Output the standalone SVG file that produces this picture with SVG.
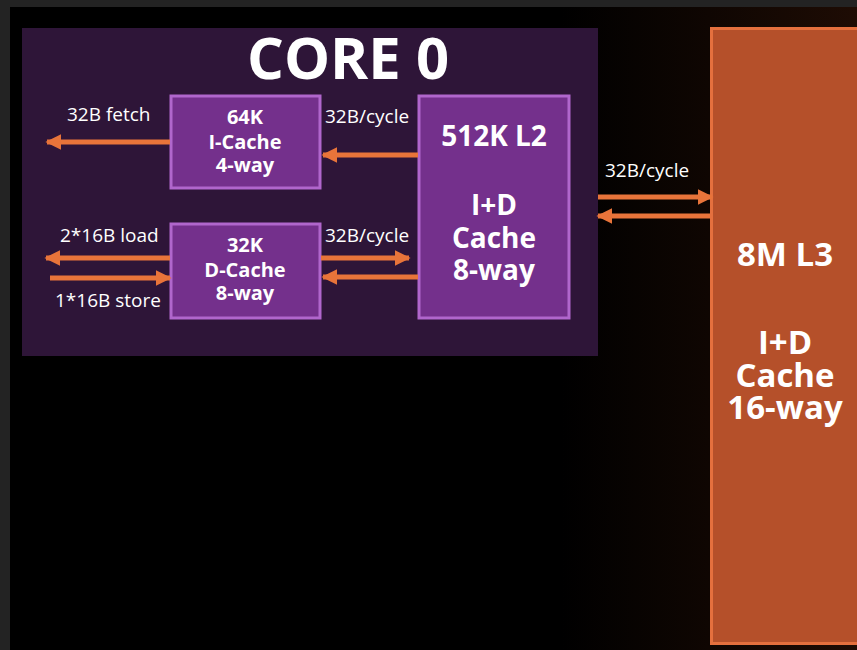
<svg xmlns="http://www.w3.org/2000/svg" width="857" height="650" viewBox="0 0 857 650">
<defs>
<style>
.box{fill:#74308c;stroke:#b066cc;stroke-width:3}
.lbl{font-family:"Open Sans","Liberation Sans",sans-serif;font-size:19px;fill:#ffffff}
.bt{font-family:"Open Sans","Liberation Sans",sans-serif;font-weight:bold;fill:#ffffff;text-anchor:middle}
.ar{stroke:#e8743a;stroke-width:5;fill:none}
</style>
<marker id="ah" viewBox="0 0 10 10" refX="9" refY="5" markerWidth="3.2" markerHeight="3.6" orient="auto" markerUnits="strokeWidth">
<path d="M0,0 L10,5 L0,10 Z" fill="#e8743a"/>
</marker>
<linearGradient id="bg" x1="0" y1="0" x2="1" y2="0">
<stop offset="0.65" stop-color="#000000"/>
<stop offset="1" stop-color="#1e0c04"/>
</linearGradient>
</defs>
<rect x="0" y="0" width="857" height="650" fill="#232323"/>
<rect x="10" y="7" width="847" height="643" fill="url(#bg)"/>
<g id="core0">
<rect x="22" y="28" width="576" height="328" fill="#2e1538"/>
<text class="bt" x="348" y="79" font-size="58">CORE 0</text>
</g>
<g id="icache">
<rect class="box" x="171" y="96" width="149" height="92"/>
<text class="bt" x="245" y="124" font-size="20">64K</text>
<text class="bt" x="245" y="149" font-size="20">I-Cache</text>
<text class="bt" x="245" y="172" font-size="20">4-way</text>
</g>
<g id="dcache">
<rect class="box" x="171" y="224" width="149" height="94"/>
<text class="bt" x="245" y="252" font-size="20">32K</text>
<text class="bt" x="245" y="277" font-size="20">D-Cache</text>
<text class="bt" x="245" y="300" font-size="20">8-way</text>
</g>
<g id="l2">
<rect class="box" x="419" y="96" width="150" height="222"/>
<text class="bt" x="494" y="146" font-size="28">512K L2</text>
<text class="bt" x="494" y="215" font-size="28">I+D</text>
<text class="bt" x="494" y="248" font-size="28">Cache</text>
<text class="bt" x="494" y="280" font-size="28">8-way</text>
</g>
<g id="l3">
<rect x="711.5" y="28.5" width="150" height="615" fill="#b5502a" stroke="#e4703e" stroke-width="3"/>
<text class="bt" x="785" y="266" font-size="33">8M L3</text>
<text class="bt" x="785" y="354" font-size="33">I+D</text>
<text class="bt" x="785" y="387" font-size="33">Cache</text>
<text class="bt" x="785" y="419" font-size="33">16-way</text>
</g>
<g id="connectors">
<line class="ar" x1="170" y1="142" x2="47" y2="142" marker-end="url(#ah)"/>
<line class="ar" x1="418" y1="155" x2="323" y2="155" marker-end="url(#ah)"/>
<line class="ar" x1="170" y1="258" x2="46" y2="258" marker-end="url(#ah)"/>
<line class="ar" x1="50" y1="278" x2="170" y2="278" marker-end="url(#ah)"/>
<line class="ar" x1="321" y1="258" x2="409" y2="258" marker-end="url(#ah)"/>
<line class="ar" x1="418" y1="277" x2="323" y2="277" marker-end="url(#ah)"/>
<line class="ar" x1="598" y1="197" x2="712" y2="197" marker-end="url(#ah)"/>
<line class="ar" x1="710" y1="216" x2="598" y2="216" marker-end="url(#ah)"/>
</g>
<g id="labels">
<text class="lbl" x="67" y="121">32B fetch</text>
<text class="lbl" x="325" y="123">32B/cycle</text>
<text class="lbl" x="60" y="242">2*16B load</text>
<text class="lbl" x="55" y="307">1*16B store</text>
<text class="lbl" x="325" y="242">32B/cycle</text>
<text class="lbl" x="605" y="177">32B/cycle</text>
</g>
</svg>
